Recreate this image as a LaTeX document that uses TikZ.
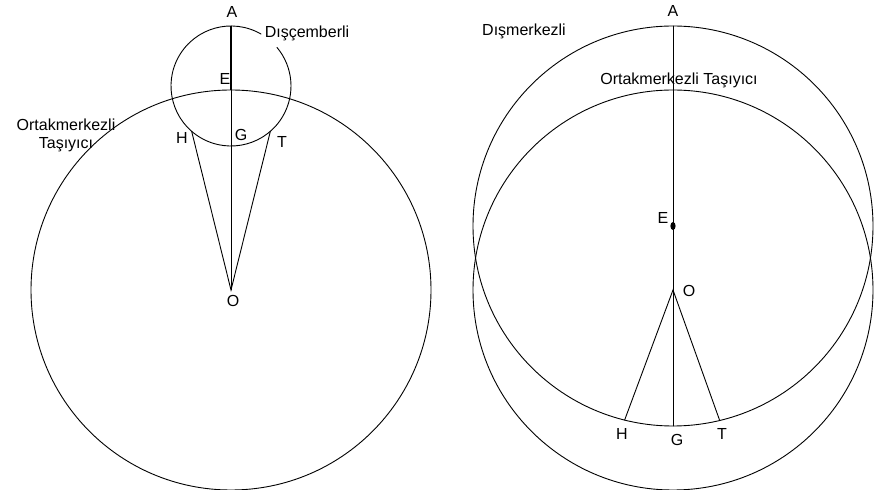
\documentclass[tikz,border=0pt]{standalone}
\usepackage{fontspec}
\setmainfont{Liberation Sans}
\usetikzlibrary{calc}
\begin{document}
\begin{tikzpicture}[x=1pt,y=1pt,
  line/.style={line width=0.9pt,line cap=round},
  thickline/.style={line width=2.6pt},
  lbl/.style={inner sep=0pt,font=\fontsize{16}{18}\selectfont}]
\useasboundingbox (0,0) rectangle (879,490);
% ---------- left: epicycle model ----------
\coordinate (O1) at (231,200);
\coordinate (E1) at (231,404);
\coordinate (A1) at (231,464);
\coordinate (D1) at (231,400);
\coordinate (H1) at ($(E1)+(229:60)$);
\coordinate (T1) at ($(E1)+(311:60)$);
\draw[line] (O1) circle[radius=200];
\draw[line] ($(E1)+(60:60)$) arc[start angle=60,end angle=400,radius=60];
\draw[line] (A1) -- (O1);
\draw[thickline] (A1) -- (D1);
\draw[line] (H1) -- (O1) -- (T1);
\node[lbl] (lA1) at (232,478) {A};
\node[lbl] (lDis) at (307,457) {Dışçemberli};
\node[lbl] (lE1) at (225,411) {E};
\node[lbl] (lH1) at (182,352) {H};
\node[lbl] (lG1) at (241,355) {G};
\node[lbl] (lT1) at (282,348) {T};
\node[lbl] (lO1) at (233,189) {O};
\node[lbl,align=center] (lOrt1) at (66,355) {Ortakmerkezli\\Taşıyıcı};
% ---------- right: eccentric model ----------
\coordinate (O2) at (673,200);
\coordinate (E2) at (673,264);
\coordinate (A2) at (673,464);
\coordinate (G2) at (673,64);
\coordinate (H2) at ($(E2)+(256:200)$);
\coordinate (T2) at ($(E2)+(283.5:200)$);
\draw[line] (O2) circle[radius=200];
\draw[line] (E2) circle[radius=200];
\draw[line] (A2) -- (G2);
\draw[line] (H2) -- (O2) -- (T2);
\fill (E2) ellipse[x radius=2.6,y radius=4];
\node[lbl] (lA2) at (673,479) {A};
\node[lbl] (lDism) at (524,459) {Dışmerkezli};
\node[lbl] (lOrt2) at (679,410) {Ortakmerkezli Taşıyıcı};
\node[lbl] (lE2) at (663,272) {E};
\node[lbl] (lO2) at (689,199) {O};
\node[lbl] (lH2) at (622,56) {H};
\node[lbl] (lG2) at (677,50) {G};
\node[lbl] (lT2) at (722,56) {T};
\end{tikzpicture}
\end{document}
